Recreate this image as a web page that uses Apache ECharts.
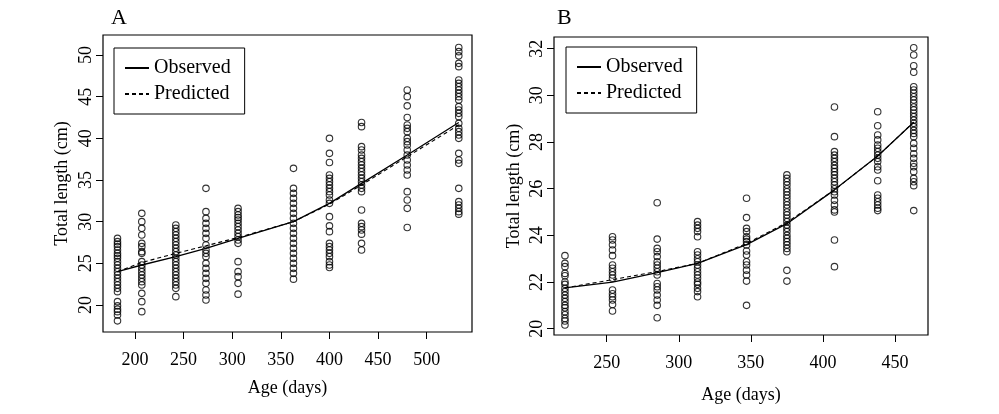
<!DOCTYPE html>
<html>
<head>
<meta charset="utf-8">
<script src="https://cdn.jsdelivr.net/npm/echarts@6/dist/echarts.min.js"></script>
<style>
  html, body { margin: 0; padding: 0; background: #fff; }
  #chart { width: 999px; height: 414px; }
</style>
</head>
<body>
<div id="chart"></div>
<script>
// panel A: sampling ages and measured lengths per age
const agesA = [182, 207, 242, 273, 306, 363, 400, 433, 480, 533]
const lengthsA = [
  [28.0, 27.6, 27.3, 27.0, 26.6, 26.2, 25.9, 25.6, 25.2, 24.8, 24.4, 24.0, 23.6, 23.2, 22.8, 22.4, 22.0, 21.6, 20.4, 19.9, 19.5, 19.2, 18.8, 18.1],
  [31.0, 30.0, 29.2, 28.4, 27.4, 27.0, 26.4, 26.2, 25.2, 24.8, 24.4, 24.0, 23.6, 23.2, 22.8, 22.4, 21.4, 20.4, 19.2],
  [29.6, 29.2, 28.8, 28.4, 28.0, 27.6, 27.2, 26.8, 26.4, 26.0, 25.6, 25.2, 24.8, 24.4, 24.0, 23.6, 23.2, 22.8, 22.4, 22.0, 21.0],
  [34.0, 31.2, 30.4, 29.8, 29.2, 28.6, 28.0, 27.2, 26.6, 26.2, 25.8, 25.0, 24.4, 23.8, 23.2, 22.6, 21.8, 21.2, 20.6],
  [31.6, 31.2, 30.8, 30.5, 30.2, 29.8, 29.4, 29.0, 28.6, 28.2, 27.8, 27.4, 25.2, 24.0, 23.4, 22.6, 21.3],
  [36.4, 34.0, 33.4, 32.8, 32.2, 31.6, 31.0, 30.4, 29.8, 29.2, 28.6, 28.0, 27.4, 26.8, 26.2, 25.6, 25.0, 24.4, 23.8, 23.1],
  [40.0, 38.2, 37.1, 35.6, 35.2, 34.8, 34.4, 34.0, 33.6, 33.2, 32.6, 32.2, 30.6, 29.5, 28.8, 27.4, 27.0, 26.6, 26.2, 25.8, 25.2, 24.8, 24.5],
  [41.9, 41.4, 39.0, 38.6, 38.0, 37.6, 37.2, 36.8, 36.4, 36.0, 35.6, 35.2, 34.8, 34.4, 34.0, 33.6, 31.4, 29.8, 29.4, 29.0, 28.5, 27.4, 26.6],
  [45.8, 45.0, 43.9, 42.5, 41.6, 41.2, 40.8, 40.0, 39.6, 39.2, 38.6, 38.0, 37.4, 36.8, 36.2, 35.6, 33.6, 32.6, 31.6, 29.3],
  [50.9, 50.4, 49.9, 49.0, 48.6, 47.0, 46.6, 46.2, 45.8, 45.4, 45.0, 44.6, 43.8, 43.4, 43.0, 42.6, 41.8, 41.2, 40.8, 40.4, 40.0, 38.2, 37.4, 37.0, 34.0, 32.4, 32.0, 31.6, 31.2, 30.9]
]
const observedA = [24.0, 24.8, 25.8, 26.8, 28.0, 30.0, 32.2, 34.6, 38.0, 41.9]
const predictedA = [24.0, 25.1, 26.2, 27.1, 28.1, 30.0, 32.1, 34.4, 37.8, 41.6]

// panel B
const agesB = [221, 254, 285, 313, 347, 375, 408, 438, 463]
const lengthsB = [
  [23.13, 22.8, 22.66, 22.37, 22.27, 22.0, 21.9, 21.73, 21.59, 21.44, 21.3, 21.16, 21.0, 20.9, 20.73, 20.6, 20.44, 20.33, 20.16],
  [23.94, 23.8, 23.6, 23.37, 23.13, 22.73, 22.59, 22.44, 22.3, 22.16, 21.66, 21.5, 21.37, 21.23, 21.04, 20.76],
  [25.4, 23.84, 23.44, 23.3, 23.09, 22.87, 22.73, 22.59, 22.44, 22.3, 21.94, 21.8, 21.66, 21.44, 21.23, 21.0, 20.47],
  [24.59, 24.44, 24.3, 24.16, 23.94, 23.3, 23.16, 23.0, 22.87, 22.73, 22.59, 22.44, 22.3, 22.16, 22.0, 21.9, 21.73, 21.59, 21.37],
  [25.59, 24.76, 24.3, 24.16, 23.94, 23.84, 23.73, 23.59, 23.33, 23.16, 22.87, 22.73, 22.51, 22.3, 22.04, 21.0],
  [26.59, 26.44, 26.3, 26.16, 26.0, 25.87, 25.73, 25.59, 25.44, 25.3, 25.16, 25.0, 24.87, 24.73, 24.59, 24.44, 24.3, 24.16, 24.0, 23.87, 23.73, 23.59, 23.44, 23.3, 22.5, 22.04],
  [29.5, 28.23, 27.59, 27.44, 27.3, 27.16, 27.0, 26.87, 26.73, 26.59, 26.44, 26.3, 26.16, 26.0, 25.87, 25.73, 25.5, 25.3, 25.09, 25.0, 23.8, 22.66],
  [29.3, 28.7, 28.3, 28.09, 27.87, 27.73, 27.59, 27.44, 27.3, 27.16, 26.94, 26.8, 26.34, 25.73, 25.59, 25.44, 25.3, 25.16, 25.06],
  [32.04, 31.73, 31.27, 30.99, 30.37, 30.23, 30.09, 29.94, 29.8, 29.66, 29.5, 29.37, 29.23, 29.09, 28.94, 28.8, 28.66, 28.5, 28.37, 28.23, 27.94, 27.73, 27.5, 27.3, 27.09, 26.94, 26.73, 26.44, 26.3, 26.13, 25.06]
]
const observedB = [21.75, 22.0, 22.4, 22.8, 23.6, 24.5, 25.95, 27.4, 28.85]
const predictedB = [21.75, 22.1, 22.45, 22.8, 23.65, 24.55, 25.95, 27.4, 28.85]

const xTicksA = [200, 250, 300, 350, 400, 450, 500]
const yTicksA = [20, 25, 30, 35, 40, 45, 50]
const xTicksB = [250, 300, 350, 400, 450]
const yTicksB = [20, 22, 24, 26, 28, 30, 32]

const FONT = '"Liberation Serif", "DejaVu Serif", serif'

function toPoints(ages, cols) {
  const pts = []
  ages.forEach((a, i) => {
    cols[i].forEach((v) => pts.push([a, v]))
  })
  return pts
}

function pairs(ages, vals) {
  return ages.map((a, i) => [a, vals[i]])
}

function xAxisCfg(idx, min, max, ticks, gap) {
  return {
    gridIndex: idx,
    type: 'value',
    min: min,
    max: max,
    name: 'Age (days)',
    nameLocation: 'middle',
    nameGap: gap,
    nameTextStyle: { fontFamily: FONT, fontSize: 18, color: '#000' },
    axisLine: { show: false },
    splitLine: { show: false },
    axisTick: { show: true, length: 7, customValues: ticks, lineStyle: { color: '#000', width: 1 } },
    axisLabel: { customValues: ticks, margin: 19, fontFamily: FONT, fontSize: 18, color: '#000' }
  }
}

function yAxisCfg(idx, min, max, ticks, gap) {
  return {
    gridIndex: idx,
    type: 'value',
    min: min,
    max: max,
    name: 'Total length (cm)',
    nameLocation: 'middle',
    nameGap: gap,
    nameTextStyle: { fontFamily: FONT, fontSize: 18, color: '#000' },
    axisLine: { show: false },
    splitLine: { show: false },
    axisTick: { show: true, length: 7, customValues: ticks, lineStyle: { color: '#000', width: 1 } },
    axisLabel: { customValues: ticks, rotate: 90, margin: 8, fontFamily: FONT, fontSize: 18, color: '#000' }
  }
}

function legendCfg(left, top) {
  return {
    left: left,
    top: top,
    orient: 'vertical',
    data: ['Observed', 'Predicted'],
    selectedMode: false,
    borderColor: '#000',
    borderWidth: 1,
    padding: [10, 14, 10, 10],
    itemGap: 6,
    itemWidth: 24,
    itemHeight: 14,
    itemStyle: { color: 'transparent', borderColor: 'transparent', borderWidth: 0 },
    textStyle: { fontFamily: FONT, fontSize: 20, color: '#000' }
  }
}

const scatterStyle = {
  symbol: 'circle',
  symbolSize: 6.5,
  itemStyle: { color: 'transparent', borderColor: '#000', borderWidth: 1.1 },
  emphasis: { disabled: true }
}

const chart = echarts.init(document.getElementById('chart'), null, { renderer: 'canvas' })

const option = {
  backgroundColor: '#fff',
  animation: false,
  title: [
    { text: 'A', left: 111, top: 7, padding: 0, textStyle: { fontFamily: FONT, fontSize: 22, fontWeight: 'normal', color: '#000' } },
    { text: 'B', left: 557, top: 7, padding: 0, textStyle: { fontFamily: FONT, fontSize: 22, fontWeight: 'normal', color: '#000' } }
  ],
  legend: [legendCfg(114, 48), legendCfg(566, 47)],
  grid: [
    { left: 103, top: 35, width: 369, height: 297, show: true, borderColor: '#000', borderWidth: 1.2, backgroundColor: 'transparent' },
    { left: 554, top: 37, width: 374, height: 298, show: true, borderColor: '#000', borderWidth: 1.2, backgroundColor: 'transparent' }
  ],
  xAxis: [
    xAxisCfg(0, 167.1, 546.6, xTicksA, 47),
    xAxisCfg(1, 213.4, 472.9, xTicksB, 51)
  ],
  yAxis: [
    yAxisCfg(0, 16.76, 52.4, yTicksA, 32),
    yAxisCfg(1, 19.73, 32.5, yTicksB, 31)
  ],
  series: [
    Object.assign({ type: 'scatter', name: 'pointsA', xAxisIndex: 0, yAxisIndex: 0, data: toPoints(agesA, lengthsA) }, scatterStyle),
    { type: 'line', name: 'Observed', xAxisIndex: 0, yAxisIndex: 0, data: pairs(agesA, observedA), symbol: 'none', lineStyle: { color: '#000', width: 1.3 }, itemStyle: { color: '#000' } },
    { type: 'line', name: 'Predicted', xAxisIndex: 0, yAxisIndex: 0, data: pairs(agesA, predictedA), symbol: 'none', lineStyle: { color: '#000', width: 1.1, type: [4, 3] }, itemStyle: { color: '#000' } },
    Object.assign({ type: 'scatter', name: 'pointsB', xAxisIndex: 1, yAxisIndex: 1, data: toPoints(agesB, lengthsB) }, scatterStyle),
    { type: 'line', name: 'Observed', xAxisIndex: 1, yAxisIndex: 1, data: pairs(agesB, observedB), symbol: 'none', lineStyle: { color: '#000', width: 1.3 }, itemStyle: { color: '#000' } },
    { type: 'line', name: 'Predicted', xAxisIndex: 1, yAxisIndex: 1, data: pairs(agesB, predictedB), symbol: 'none', lineStyle: { color: '#000', width: 1.1, type: [4, 3] }, itemStyle: { color: '#000' } }
  ]
}

chart.setOption(option)
</script>
</body>
</html>
